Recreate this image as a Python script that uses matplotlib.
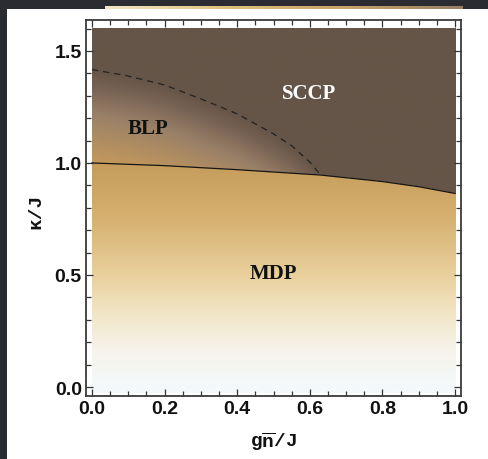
import numpy as np
import matplotlib
matplotlib.use("Agg")
import matplotlib.pyplot as plt
from matplotlib.colors import LinearSegmentedColormap, to_rgb
from matplotlib.patches import Rectangle

plt.rcParams['mathtext.fontset'] = 'custom'
plt.rcParams['mathtext.tt'] = 'Liberation Mono:bold'

# phase boundaries (g*nbar/J, kappa/J)
solid_x = [0.0, 0.2, 0.4, 0.63, 0.8, 0.9, 1.0]
solid_y = [1.0, 0.988, 0.970, 0.946, 0.917, 0.894, 0.864]
dash_x = [0.0, 0.1, 0.2, 0.3, 0.4, 0.5, 0.55, 0.6, 0.63]
dash_y = [1.417, 1.388, 1.348, 1.286, 1.219, 1.13, 1.077, 1.004, 0.946]

xticks = [0.0, 0.2, 0.4, 0.6, 0.8, 1.0]
yticks = [0.0, 0.5, 1.0, 1.5]
phase_names = ['SCCP', 'BLP', 'MDP']

# colours
sccp_col = '#655548'
mdp_stops = [(0.0, '#f4f9fb'), (0.17, '#f6f3ea'), (0.32, '#f2e6c8'),
             (0.5, '#e9d09c'), (0.78, '#d4ae6c'), (1.0, '#c59c5c')]
blp_stops = [(0.0, '#655548'), (0.08 / 0.41, '#786354'), (0.2 / 0.41, '#9a8068'),
             (0.3 / 0.41, '#ad8c62'), (1.0, '#c2985c')]
mdp_cmap = LinearSegmentedColormap.from_list('mdp', mdp_stops)
blp_cmap = LinearSegmentedColormap.from_list('blp', blp_stops)

# build the coloured phase map on a grid
gx = np.linspace(0, 1, 500)
gy = np.linspace(-0.025, 1.6, 500)
X, Y = np.meshgrid(gx, gy)
sol = np.interp(gx, solid_x, solid_y)[None, :] * np.ones_like(Y)
dsh = np.where(gx <= dash_x[-1], np.interp(gx, dash_x, dash_y), np.interp(gx, solid_x, solid_y))
dsh = dsh[None, :] * np.ones_like(Y)

img = np.zeros(X.shape + (3,))
img[:] = to_rgb(sccp_col)
mdp = Y < sol
img[mdp] = mdp_cmap(np.clip(Y[mdp], 0, 1))[:, :3]
blp = (Y >= sol) & (Y < dsh)
d = (dsh - Y) / 0.41
img[blp] = blp_cmap(np.clip(d[blp], 0, 1))[:, :3]

fig = plt.figure(figsize=(4.88, 4.6), dpi=100)
fig.patch.set_facecolor('#2a2c31')
fig.patches.append(Rectangle((7 / 488, 0), 481 / 488, 450 / 460, transform=fig.transFigure,
                             facecolor='white', edgecolor='none', zorder=-10))

# thin strip of the slide above
strip = fig.add_axes([105 / 488, 1 - 10 / 460, 358 / 488, 3 / 460])
sc = LinearSegmentedColormap.from_list('strip', ['#f3e6c6', '#e0c07e', '#c9a36a', '#9a7e64'])
strip.imshow(np.linspace(0, 1, 200)[None, :], cmap=sc, aspect='auto')
strip.axis('off')

ax = fig.add_axes([86 / 488, 63 / 460, 375 / 488, 376 / 460])
ax.imshow(img, extent=[0, 1, -0.025, 1.6], origin='lower', aspect='auto', interpolation='bilinear')
ax.plot(solid_x, solid_y, color='#151515', lw=0.9)
ax.plot(dash_x, dash_y, color='#222222', lw=0.9, ls=(0, (5, 4)))

ax.text(0.598, 1.31, phase_names[0], color='white', fontsize=15, fontweight='bold',
        family='Liberation Serif', ha='center', va='center')
ax.text(0.154, 1.156, phase_names[1], color='#111111', fontsize=15, fontweight='bold',
        family='Liberation Serif', ha='center', va='center')
ax.text(0.50, 0.509, phase_names[2], color='#111111', fontsize=15, fontweight='bold',
        family='Liberation Serif', ha='center', va='center')

ax.set_xlim(-0.0165, 1.0165)
ax.set_ylim(-0.04, 1.638)
ax.set_xticks(xticks)
ax.set_xticks(np.arange(0, 1.001, 0.05), minor=True)
ax.set_yticks(yticks)
ax.set_yticks(np.arange(0, 1.601, 0.1), minor=True)
ax.set_xticklabels(['%.1f' % v for v in xticks])
ax.set_yticklabels(['%.1f' % v for v in yticks])
ax.tick_params(which='both', direction='in', top=True, right=True, color='#333333', width=0.9)
ax.tick_params(which='major', length=5, pad=3)
ax.tick_params(which='minor', length=3.5)
for lab in ax.get_xticklabels() + ax.get_yticklabels():
    lab.set_family('Liberation Sans')
    lab.set_fontweight('bold')
    lab.set_fontsize(14)
    lab.set_color('#111111')
for s in ax.spines.values():
    s.set_color('#3a3a3a')
    s.set_linewidth(1.3)

fig.text(273 / 488, 1 - 442 / 460, r'$\mathtt{g\overline{n}/J}$', fontsize=14,
         ha='center', va='center', color='#111111')
fig.text(36 / 488, 1 - 211 / 460, 'κ/J', rotation=90, fontsize=14, family='Liberation Mono',
         fontweight='bold', ha='center', va='center', color='#111111')

fig.savefig('out.png', dpi=100, facecolor=fig.get_facecolor())
